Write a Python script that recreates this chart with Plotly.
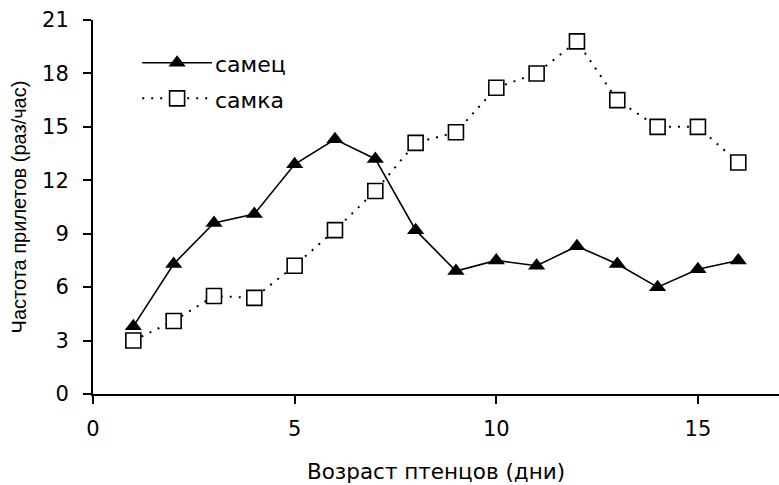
import plotly.graph_objects as go

# Возраст птенцов (дни)
days = list(range(1, 17))
# Частота прилетов (раз/час)
male = [3.8, 7.3, 9.6, 10.1, 12.9, 14.3, 13.2, 9.2, 6.9, 7.5, 7.2, 8.3, 7.3, 6.0, 7.0, 7.5]
female = [3.0, 4.1, 5.5, 5.4, 7.2, 9.2, 11.4, 14.1, 14.7, 17.2, 18.0, 19.8, 16.5, 15.0, 15.0, 13.0]

x_ticks = [0, 5, 10, 15]
y_ticks = [0, 3, 6, 9, 12, 15, 18, 21]

FONT = "Liberation Sans, Arial, sans-serif"
WIDE_FONT = "DejaVu Sans, Liberation Sans, sans-serif"

FEMALE_DASH = "2px,7px"
tri = dict(symbol="triangle-up", size=15, color="black", line=dict(color="black", width=0))
sq = dict(symbol="square", size=15, color="white", line=dict(color="black", width=1.6))

fig = go.Figure()
fig.add_trace(go.Scatter(
    x=days, y=female, mode="lines+markers", name="самка",
    line=dict(color="black", width=2, dash=FEMALE_DASH),
    marker=sq, showlegend=False,
))
fig.add_trace(go.Scatter(
    x=days, y=male, mode="lines+markers", name="самец",
    line=dict(color="black", width=1.6),
    marker=tri, showlegend=False,
))

# legend key in the upper-left corner, drawn in data space
leg_x0, leg_x1 = 1.22, 2.95
leg_mid = (leg_x0 + leg_x1) / 2
leg_y_male, leg_y_female = 18.6, 16.6
fig.add_trace(go.Scatter(
    x=[leg_x0, leg_x1], y=[leg_y_male, leg_y_male], mode="lines",
    line=dict(color="black", width=1.6), showlegend=False, hoverinfo="skip"))
fig.add_trace(go.Scatter(
    x=[leg_mid], y=[leg_y_male], mode="markers", marker=tri,
    showlegend=False, hoverinfo="skip"))
fig.add_trace(go.Scatter(
    x=[leg_x0, leg_x1], y=[leg_y_female, leg_y_female], mode="lines",
    line=dict(color="black", width=2, dash=FEMALE_DASH),
    showlegend=False, hoverinfo="skip"))
fig.add_trace(go.Scatter(
    x=[leg_mid], y=[leg_y_female], mode="markers", marker=sq,
    showlegend=False, hoverinfo="skip"))
for label, yy in (("самец", leg_y_male), ("самка", leg_y_female)):
    fig.add_annotation(x=leg_x1, y=yy, text=label, showarrow=False,
                       xanchor="left", yanchor="middle", xshift=1, yshift=-2,
                       font=dict(family=WIDE_FONT, size=22, color="black"))

fig.update_layout(
    width=779, height=485,
    margin=dict(l=93, r=0, t=20, b=91),
    paper_bgcolor="white", plot_bgcolor="white",
    font=dict(family=WIDE_FONT, size=21, color="black"),
    showlegend=False,
)
fig.update_xaxes(
    range=[0, 17.01], tickvals=x_ticks, ticktext=[str(v) for v in x_ticks],
    showgrid=False, zeroline=False,
    showline=True, linecolor="black", linewidth=2,
    ticks="outside", ticklen=8, tickwidth=1.5, tickcolor="black",
    tickfont=dict(family=WIDE_FONT, size=21),
    ticklabelstandoff=7,
    title=dict(text="Возраст птенцов (дни)", font=dict(family=WIDE_FONT, size=21.5), standoff=24),
)
fig.update_yaxes(
    range=[0, 21], tickvals=y_ticks, ticktext=[str(v) for v in y_ticks],
    showgrid=False, zeroline=False,
    showline=True, linecolor="black", linewidth=2,
    ticks="outside", ticklen=8, tickwidth=1.5, tickcolor="black",
    tickfont=dict(family=WIDE_FONT, size=21),
    ticklabelstandoff=10,
    title=dict(text="Частота прилетов (раз/час)", font=dict(family=FONT, size=20), standoff=10),
)

fig.write_html("out.html")
